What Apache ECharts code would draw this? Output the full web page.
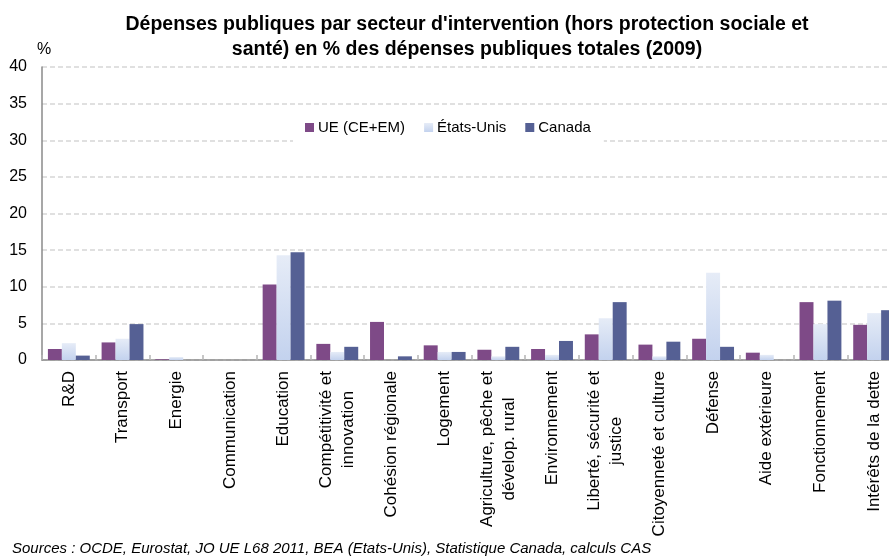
<!DOCTYPE html>
<html>
<head>
<meta charset="utf-8">
<script src="https://cdn.jsdelivr.net/npm/echarts@6/dist/echarts.min.js"></script>
<style>
  html, body { margin: 0; padding: 0; background: #fff; }
  #chart { width: 889px; height: 556px; }
</style>
</head>
<body>
<div id="chart"></div>
<script>
// Secteurs d'intervention (les retours à la ligne suivent la mise en page des libellés)
const categories = [
  'R&D', 'Transport', 'Energie', 'Communication', 'Education',
  'Compétitivité et\ninnovation', 'Cohésion régionale', 'Logement',
  'Agriculture, pêche et\ndévelop. rural', 'Environnement',
  'Liberté, sécurité et\njustice', 'Citoyenneté et culture', 'Défense',
  'Aide extérieure', 'Fonctionnement', 'Intérêts de la dette'
];

// Part des dépenses publiques totales, en %
const ue      = [1.5, 2.4, 0.1, 0, 10.3, 2.2, 5.2, 2.0, 1.4, 1.5, 3.5, 2.1, 2.9, 1.0, 7.9, 4.8];
const usa     = [2.3, 2.9, 0.4, 0, 14.3, 1.1, 0,   1.1, 0.5, 0.7, 5.7, 0.5, 11.9, 0.7, 4.9, 6.4];
const canada  = [0.6, 4.9, 0,   0, 14.7, 1.8, 0.5, 1.1, 1.8, 2.6, 7.9, 2.5, 1.8, 0,   8.1, 6.8];

const seriesNames = ['UE (CE+EM)', 'États-Unis', 'Canada'];
const yTicks = { min: 0, max: 40, interval: 5 };

const FONT = "'Liberation Sans', Arial, Helvetica, sans-serif";

const colPurple = '#7E4A87';
const colDark = '#556094';
const colLight = new echarts.graphic.LinearGradient(0, 0, 0, 1, [
  { offset: 0, color: '#E6ECF7' },
  { offset: 1, color: '#C3D2EE' }
]);

const chart = echarts.init(document.getElementById('chart'), null, { renderer: 'canvas' });

function barSeries(name, data, color) {
  return {
    name: name,
    type: 'bar',
    data: data,
    barGap: '0%',
    barCategoryGap: '22%',
    itemStyle: { color: color },
    emphasis: { disabled: true }
  };
}

chart.setOption({
  animation: false,
  backgroundColor: '#ffffff',
  textStyle: { fontFamily: FONT },
  title: {
    text: "Dépenses publiques par secteur d'intervention (hors protection sociale et\nsanté) en % des dépenses publiques totales (2009)",
    left: 462,
    top: 7,
    textAlign: 'center',
    textStyle: {
      fontFamily: FONT,
      fontSize: 19.5,
      fontWeight: 'bold',
      color: '#000',
      lineHeight: 25
    }
  },
  legend: {
    data: seriesNames,
    left: 293,
    top: 112,
    padding: [8, 13, 8, 12],
    backgroundColor: '#ffffff',
    icon: 'rect',
    itemWidth: 9,
    itemHeight: 9,
    itemGap: 19,
    textStyle: { fontFamily: FONT, fontSize: 15, color: '#000', padding: [0, 0, 0, -1] }
  },
  grid: {
    left: 42,
    top: 67,
    width: 859,
    height: 293,
    containLabel: false,
    outerBoundsMode: 'none'
  },
  xAxis: {
    type: 'category',
    data: categories,
    axisLine: { lineStyle: { color: '#8a8a8a', width: 1.5 } },
    axisTick: { show: true, inside: true, length: 5, lineStyle: { color: '#b5b5b5', width: 1.5 } },
    axisLabel: {
      interval: 0,
      rotate: 90,
      margin: 11,
      fontFamily: FONT,
      fontSize: 17,
      color: '#000',
      formatter: function (v) {
        return v.split('\n').map(function (l) { return '{c|' + l + '}'; }).join('\n');
      },
      rich: {
        c: { align: 'center', fontFamily: FONT, fontSize: 17, color: '#000', lineHeight: 22 }
      }
    }
  },
  yAxis: {
    type: 'value',
    min: yTicks.min,
    max: yTicks.max,
    interval: yTicks.interval,
    name: '%',
    nameLocation: 'end',
    nameGap: 9,
    nameTextStyle: { fontFamily: FONT, fontSize: 16, color: '#000', padding: [0, 0, 0, 4] },
    axisLine: { show: true, lineStyle: { color: '#8a8a8a', width: 1.5 } },
    axisTick: { show: false },
    axisLabel: { fontFamily: FONT, fontSize: 16, color: '#000', margin: 15 },
    splitLine: { lineStyle: { color: '#d6d6d6', type: [5, 3], width: 1.5 } }
  },
  graphic: [{
    type: 'text',
    left: 12,
    top: 541,
    style: {
      text: 'Sources : OCDE, Eurostat, JO UE L68 2011, BEA (Etats-Unis), Statistique Canada, calculs CAS',
      font: 'italic 15px ' + FONT,
      fill: '#000'
    }
  }],
  series: [
    barSeries(seriesNames[0], ue, colPurple),
    barSeries(seriesNames[1], usa, colLight),
    barSeries(seriesNames[2], canada, colDark)
  ]
});
</script>
</body>
</html>
